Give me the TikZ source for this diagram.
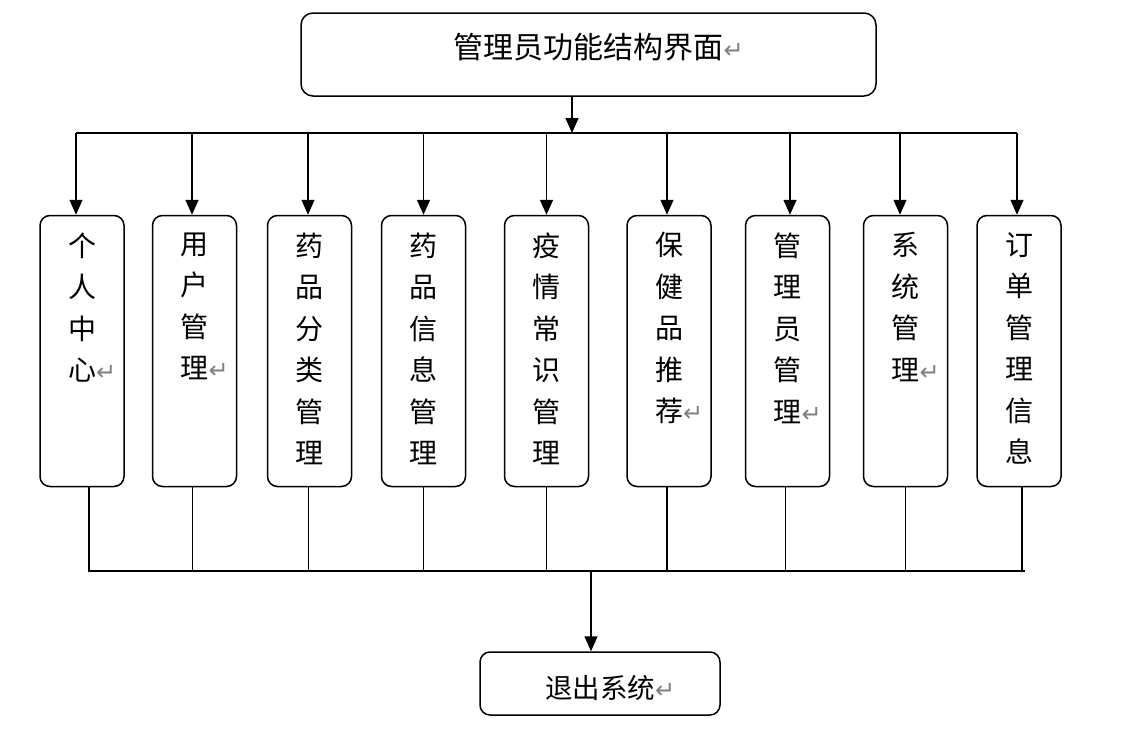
\documentclass[tikz,border=0pt]{standalone}
\usepackage{fontspec}
\newfontfamily\cjk{Noto Sans CJK SC}
\newfontfamily\symfont{DejaVu Sans}
\usetikzlibrary{positioning,arrows.meta}
\newcommand{\ret}{\rlap{\symfont\fontsize{24}{24}\selectfont\textcolor{gray}{↵}}}
\newcommand{\colbox}[1]{\parbox[c][271pt][t]{84pt}{\centering\vspace*{17pt}#1}}

\begin{document}
\begin{tikzpicture}[x=1pt,y=1pt,
		titlebox/.style={draw, rounded corners=12pt, line width=1.5pt,
			minimum width=575pt, minimum height=83pt,
			font=\cjk\fontsize{30}{30}\selectfont, text height=24pt, text depth=17pt},
		modbox/.style={draw, rounded corners=10pt, line width=1.5pt, inner sep=0pt,
			font=\cjk\fontsize{28}{41.5}\selectfont},
		exitbox/.style={draw, rounded corners=10pt, line width=1.5pt,
			minimum width=240pt, minimum height=63pt,
			font=\cjk\fontsize{27.5}{27.5}\selectfont, text height=31pt, text depth=1pt},
		arrow/.style={-{Triangle[length=15pt,width=13pt]}, line width=1.5pt},
		link/.style={line width=1.5pt}
		]
		\useasboundingbox (0,0) rectangle (1145,-731);
		\node[titlebox] (top) at (588.5,-54.5) {管理员功能结构界面\ret};
		\node[modbox] (b1) at (82,-351) {\colbox{个\\人\\中\\心\ret}};
		\node[modbox, right=27pt of b1] (b2) {\colbox{用\\户\\管\\理\ret}};
		\node[modbox, right=29.5pt of b2] (b3) {\colbox{药\\品\\分\\类\\管\\理}};
		\node[modbox, right=28.5pt of b3] (b4) {\colbox{药\\品\\信\\息\\管\\理}};
		\node[modbox, right=37.5pt of b4] (b5) {\colbox{疫\\情\\常\\识\\管\\理}};
		\node[modbox, right=37pt of b5] (b6) {\colbox{保\\健\\品\\推\\荐\ret}};
		\node[modbox, right=33pt of b6] (b7) {\colbox{管\\理\\员\\管\\理\ret}};
		\node[modbox, right=32.5pt of b7] (b8) {\colbox{系\\统\\管\\理\ret}};
		\node[modbox, right=28pt of b8] (b9) {\colbox{订\\单\\管\\理\\信\\息}};
		\node[exitbox] (exit) at (600,-683.5) {退出系统\ret};
		\coordinate (hub) at (572,-133);
		\coordinate (sink) at (591,-571);
		% top: title to every module
		\draw[arrow] ([xshift=-16.5pt]top.south) -- (hub);
		\draw[link] ([xshift=-6pt]b1.north |- hub) -- ([xshift=-2pt]b9.north |- hub);
		\foreach \i/\dx in {1/-6,2/-2.5,3/-1.5,4/0,5/0,6/-2,7/2.5,8/-5.5,9/-2}
			\draw[arrow] ([xshift=\dx pt]b\i.north |- hub) -- ([xshift=\dx pt]b\i.north);
		% bottom: every module to exit
		\draw[link] ([xshift=6pt]b1.south |- sink) -- ([xshift=6pt]b9.south |- sink);
		\foreach \i/\dx in {1/7,2/-2,3/-1,4/0,5/0,6/-2,7/-2,8/0,9/3}
			\draw[link] ([xshift=\dx pt]b\i.south) -- ([xshift=\dx pt]b\i.south |- sink);
		\draw[arrow] (sink) -- ([xshift=-9pt]exit.north);
	\end{tikzpicture}
\end{document}
